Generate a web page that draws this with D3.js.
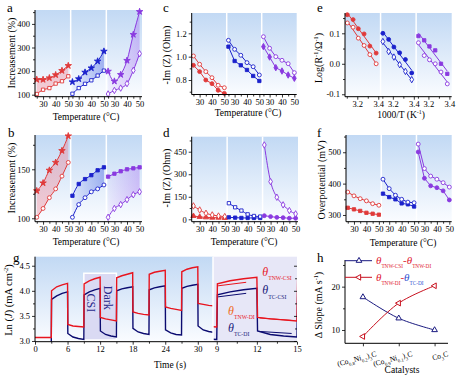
<!DOCTYPE html>
<html><head><meta charset="utf-8">
<script src="https://cdn.jsdelivr.net/npm/d3@7/dist/d3.min.js"></script>
<style>
html,body{margin:0;padding:0;background:#fff;}
svg{display:block;}
text{font-family:"Liberation Serif","Times New Roman",Times,serif;}
</style></head><body>
<svg id="chart" width="458" height="381"></svg>
<script>
// ---------------- data ----------------
const temps=[25,30,35,40,45,50];
const invT=[3.105,3.16,3.21,3.265,3.32,3.38];
const tempTicks=[30,40,50];
const tempMinor=[25,35,45];
const invTTicks=[3.2,3.4];
const invTMinor=[3.1,3.3];

const aRedSolid=[164,164,171,184,202,223];
const aRedOpen=[103,121,128,147,157,178];
const aBlueSolid=[154,167,195,213,242,284];
const aBlueOpen=[104,128,146,161,181,202];
const aPurpleSolid=[199,157,185,245,355,452];
const aPurpleOpen=[103,118,128,147,203,274];

const bRedSolid=[128,136,149,157,169,184];
const bRedOpen=[101,110,121,130,143,157];
const bBlueSolid=[123,135,140,144,149,152];
const bBlueOpen=[101,114,121,127,130,134];
const bPurpleSolid=[142.5,145.5,148,150,151,152];
const bPurpleOpen=[101,110,114,119,124,127];

const cRedOpen=[1.006,0.935,0.872,0.82,0.755,0.734];
const cRedSolid=[0.926,0.872,0.80,0.769,0.712,0.686];
const cBlueOpen=[1.14,1.063,1.012,0.949,0.914,0.843];
const cBlueSolid=[1.086,0.963,0.926,0.886,0.835,0.792];
const cPurpleOpen=[1.171,1.072,1.0,0.969,0.94,0.863];
const cPurpleSolid=[1.086,0.997,0.906,0.877,0.843,0.815];

const dRedOpen=[89,62,40,29,22,18];
const dRedSolid=[22,16,13,11,11,9];
const dBlueOpen=[107,80,58,33,22,18];
const dBlueSolid=[13,11,9,9,9,9];
const dPurpleOpen=[495,251,147,96,58,36];
const dPurpleSolid=[24,18,13,11,7,7];

const eRedSolid=[0.161,0.145,0.115,0.098,0.058,0.035];
const eRedOpen=[0.134,0.12,0.084,0.06,0.03,0.0];
const eBlueSolid=[0.10,0.08,0.055,0.036,0.014,-0.03];
const eBlueOpen=[0.073,0.04,0.022,-0.003,-0.025,-0.052];
const ePurpleSolid=[0.091,0.077,0.057,0.044,0.0,-0.033];
const ePurpleOpen=[0.069,0.027,0.013,0.0,-0.027,-0.066];

const fRedOpen=[373,361,352,345,336,331];
const fRedSolid=[323,318,313,307,304,301];
const fBlueOpen=[414,384,363,350,341,339];
const fBlueSolid=[368,357,350,337,334,327];
const fPurpleOpen=[526,448,424,414,403,389];
const fPurpleSolid=[501,417,393,387,377,348];

// g: photocurrent transients [time (s), Ln(J)]
const gTNW=[[0,3.07],[3,3.07],[3.05,4.0],[4,4.08],[5,4.12],[6,4.15],[6.05,3.33],[7,3.3],[8,3.29],[9,3.28],
 [9.05,4.14],[10,4.2],[11,4.24],[12,4.27],[12.05,3.47],[13,3.44],[14,3.42],[15,3.40],
 [15.05,4.26],[16,4.3],[17,4.33],[18,4.36],[18.05,3.58],[19,3.55],[20,3.53],[21,3.52],
 [21.05,4.33],[22,4.37],[23,4.39],[24,4.41],[24.05,3.68],[25,3.65],[26,3.63],[27,3.61],
 [27.05,4.38],[28,4.43],[29,4.46],[30,4.48],[30.05,3.75],[31,3.73],[32,3.71],[33,3.70]];
const gTC=[[0,2.95],[3,2.95],[3.05,3.83],[4,3.9],[5,3.95],[6,3.98],[6.05,3.15],[7,3.08],[8,3.05],[9,3.03],
 [9.05,3.92],[10,3.98],[11,4.02],[12,4.05],[12.05,3.2],[13,3.13],[14,3.1],[15,3.08],
 [15.05,4.0],[16,4.04],[17,4.06],[18,4.08],[18.05,3.25],[19,3.18],[20,3.15],[21,3.13],
 [21.05,4.02],[22,4.06],[23,4.08],[24,4.1],[24.05,3.22],[25,3.16],[26,3.13],[27,3.12],
 [27.05,4.05],[28,4.09],[29,4.11],[30,4.13],[30.05,3.3],[31,3.22],[32,3.19],[33,3.17]];
const gFitTNWCSI=[[9.1,4.10],[11.2,4.17]];
const gFitTCCSI=[[9.1,3.88],[11.2,3.95]];
const gFitTNWDI=[[12.2,3.46],[14.6,3.41]];
const gFitTCDI=[[12.2,3.19],[14.6,3.15]];
const csiBox={t:[9,15],v:[3.02,4.35]};
const gTicksL=[0,6,12,18,24,30], gMinorL=[3,9,15,21,27];
const gTicksR=[9,12,15], gMinorR=[10.5,13.5];
const gYTicks=[3.0,3.5,4.0,4.5], gYMinor=[3.25,3.75,4.25];

// h
const hCats=["(Co_{0.8}Ni_{0.2})_{3}C","(Co_{0.9}Ni_{0.1})_{3}C","Co_{3}C"];
const hCSIminusDI=[17.6,12.7,10.0];
const hTNWminusTC=[8.5,16.2,20.2];

// ---------------- drawing ----------------
const FONT='"Liberation Serif","Times New Roman",Times,serif';
const svg=d3.select("#chart");
const defs=svg.append("defs");
const bgG=defs.append("linearGradient").attr("id","bg").attr("x1",0).attr("y1",0).attr("x2",0).attr("y2",1);
bgG.append("stop").attr("offset",0).attr("stop-color","#c2d9f4");
bgG.append("stop").attr("offset",1).attr("stop-color","#fafcff");
const COL={red:"#e03a3a",blue:"#1c22cc",purple:"#8a3ae0"};
const FILL={red:["#f06a7a",0.32,0.32],blue:["#2f4fe0",0.06,0.38],purple:["#9a55f0",0.06,0.32]};
Object.keys(FILL).forEach(k=>{const [c,o0,o1]=FILL[k];
  const lg=defs.append("linearGradient").attr("id","f_"+k).attr("x1",0).attr("x2",1).attr("y1",0).attr("y2",0);
  lg.append("stop").attr("offset",0).attr("stop-color",c).attr("stop-opacity",o0);
  lg.append("stop").attr("offset",1).attr("stop-color",c).attr("stop-opacity",o1);});
const SYM={star:d3.symbolStar,square:d3.symbolSquare,circle:d3.symbolCircle,diamond:d3.symbolDiamond,triangle:d3.symbolTriangle};
const SZ={star:13,square:11,circle:12,diamond:12,triangle:12};

function parseRich(str){const out=[];const re=/([_^])\{([^}]*)\}|([^_^]+)/g;let m;
  while((m=re.exec(str))){if(m[3]!==undefined)out.push({t:m[3]});else out.push({t:m[2],sub:m[1]==="_",sup:m[1]==="^"});}
  return out;}
function segText(parent,x,y,segs,size,opts={}){
  const t=parent.append("text").attr("x",x).attr("y",y).attr("font-size",size).attr("fill","#000");
  if(opts.anchor)t.attr("text-anchor",opts.anchor);
  if(opts.transform)t.attr("transform",opts.transform);
  let cur=0;
  segs.forEach(s=>{const target=s.sub?size*0.35:(s.sup?-size*0.4:0);
    const ts=t.append("tspan").text(s.t).attr("dy",target-cur);cur=target;
    if(s.sub||s.sup)ts.attr("font-size",size*(s.scale||0.62));
    if(s.fill)ts.attr("fill",s.fill);
    if(s.it)ts.attr("font-style","italic");});
  return t;}
function styleAxis(g,size){g.attr("font-family",FONT).attr("font-size",size||8);g.select(".domain").remove();
  g.selectAll("line").attr("stroke","#000").attr("stroke-width",0.8);g.selectAll("text").attr("fill","#000");}
function yAxis(scale,x,major,minor,fmt){
  styleAxis(svg.append("g").attr("transform",`translate(${x},0)`).call(d3.axisLeft(scale).tickValues(major).tickSize(3).tickPadding(2).tickFormat(fmt)),8.5);
  if(minor)styleAxis(svg.append("g").attr("transform",`translate(${x},0)`).call(d3.axisLeft(scale).tickValues(minor).tickSize(2).tickFormat("")));}
function xAxis(scale,y,major,minor,fmt){
  styleAxis(svg.append("g").attr("transform",`translate(0,${y})`).call(d3.axisBottom(scale).tickValues(major).tickSize(3).tickPadding(1).tickFormat(fmt)),8.5);
  if(minor)styleAxis(svg.append("g").attr("transform",`translate(0,${y})`).call(d3.axisBottom(scale).tickValues(minor).tickSize(2).tickFormat("")));}
function letter(l,x,y){svg.append("text").attr("x",x).attr("y",y).attr("font-size",13).text(l);}
function yTitle(str,x,y,size){segText(svg,0,0,parseRich(str),size||10,{anchor:"middle",transform:`translate(${x},${y}) rotate(-90)`});}
function xTitle(str,x,y,size){segText(svg,x,y,parseRich(str),size||9.5,{anchor:"middle"});}

const f1=d=>d.toFixed(1), fd=d=>String(d);
const panels=[
 {id:"a",x0:35,x1:142,y0:10,y1:96.7,yd:[91.5,459],xd:[23.6,51.9],xv:temps,xt:tempTicks,xm:tempMinor,xf:fd,
  yt:[100,200,300,400],ym:[150,250,350,450],yf:fd,fill:true,curve:d3.curveMonotoneX,
  series:[[aRedSolid,aRedOpen,"red","star","square"],[aBlueSolid,aBlueOpen,"blue","star","square"],[aPurpleSolid,aPurpleOpen,"purple","star","diamond"]],
  L:[7,12],XT:["Temperature (°C)",86,120],YT:["Increasement (%)",15,53]},
 {id:"b",x0:35,x1:142,y0:135,y1:221.7,yd:[96.5,185],xd:[23.6,51.9],xv:temps,xt:tempTicks,xm:tempMinor,xf:fd,
  yt:[100,150],ym:[125,175],yf:fd,fill:true,curve:d3.curveMonotoneX,
  series:[[bRedSolid,bRedOpen,"red","star","circle"],[bBlueSolid,bBlueOpen,"blue","square","circle"],[bPurpleSolid,bPurpleOpen,"purple","square","diamond"]],
  L:[8,137],XT:["Temperature (°C)",86,245],YT:["Increasement (%)",15,178]},
 {id:"c",x0:191.7,x1:296.7,y0:13,y1:94.5,yd:[0.676,1.374],xd:[23.6,51.9],xv:temps,xt:tempTicks,xm:tempMinor,xf:fd,
  yt:[0.8,1.0,1.2],ym:[0.7,0.9,1.1,1.3],yf:f1,fill:false,curve:d3.curveLinear,
  series:[[cRedSolid,cRedOpen,"red","circle","circle"],[cBlueSolid,cBlueOpen,"blue","square","circle"],[cPurpleSolid,cPurpleOpen,"purple","diamond","circle"]],
  L:[163,12],XT:["Temperature (°C)",248,116],YT:["-Im (Z) (Ohm)",170,55]},
 {id:"d",x0:191.7,x1:298,y0:136.7,y1:221.7,yd:[-16,550],xd:[23.6,51.9],xv:temps,xt:tempTicks,xm:tempMinor,xf:fd,
  yt:[0,150,300,450],ym:[75,225,375,525],yf:fd,fill:false,curve:d3.curveMonotoneX,
  series:[[dRedSolid,dRedOpen,"red","triangle","diamond"],[dBlueSolid,dBlueOpen,"blue","square","square"],[dPurpleSolid,dPurpleOpen,"purple","circle","diamond"]],
  L:[163,137],XT:["Temperature (°C)",244,245],YT:["-Im (Z) (Ohm)",170,178]},
 {id:"e",x0:345,x1:451.7,y0:13,y1:96.7,yd:[-0.108,0.1666],xd:[3.083,3.422],xv:invT,xt:invTTicks,xm:invTMinor,xf:f1,
  yt:[-0.1,0,0.1],ym:[-0.05,0.05,0.15],yf:f1,fill:false,fit:true,curve:d3.curveLinear,
  series:[[eRedSolid,eRedOpen,"red","circle","circle"],[eBlueSolid,eBlueOpen,"blue","circle","diamond"],[ePurpleSolid,ePurpleOpen,"purple","square","circle"]],
  L:[317,12],XT:["1000/T (K^{-1})",401,118],YT:["Log(R^{-1}/Ω^{-1})",322,58]},
 {id:"f",x0:346,x1:451.7,y0:135,y1:221.7,yd:[278.6,555],xd:[23.6,51.9],xv:temps,xt:tempTicks,xm:tempMinor,xf:fd,
  yt:[300,400,500],ym:[350,450,550],yf:fd,fill:false,curve:d3.curveLinear,
  series:[[fRedSolid,fRedOpen,"red","square","circle"],[fBlueSolid,fBlueOpen,"blue","square","circle"],[fPurpleSolid,fPurpleOpen,"purple","circle","circle"]],
  L:[317,137],XT:["Temperature (°C)",403,246],YT:["Overpotential (mV)",325,180]}
];

function drawPanel(p){
  const W=(p.x1-p.x0)/3;
  const y=d3.scaleLinear().domain(p.yd).range([p.y1,p.y0]);
  svg.append("rect").attr("x",p.x0).attr("y",p.y0).attr("width",p.x1-p.x0).attr("height",p.y1-p.y0).attr("fill","url(#bg)");
  const xs=[0,1,2].map(i=>d3.scaleLinear().domain(p.xd).range([p.x0+i*W,p.x0+(i+1)*W]));
  [1,2].forEach(i=>svg.append("line").attr("x1",p.x0+i*W).attr("x2",p.x0+i*W).attr("y1",p.y0).attr("y2",p.y1).attr("stroke","#fff").attr("stroke-width",1.5));
  const markers=[];
  p.series.forEach((s,i)=>{
    const [solid,open,ck,symS,symO]=s;const x=xs[i];const col=COL[ck];
    if(p.fill){const pts=p.xv.map((xv,j)=>({x:xv,a:solid[j],b:open[j]}));
      svg.append("path").datum(pts).attr("d",d3.area().x(d=>x(d.x)).y0(d=>y(d.b)).y1(d=>y(d.a)).curve(p.curve)).attr("fill",`url(#f_${ck})`);}
    [[solid,symS,true],[open,symO,false]].forEach(([vals,sym,filled])=>{
      const pts=p.xv.map((xv,j)=>[xv,vals[j]]);
      let linePts=pts;
      if(p.fit){const mx=d3.mean(pts,d=>d[0]),my=d3.mean(pts,d=>d[1]);
        const sl=d3.sum(pts,d=>(d[0]-mx)*(d[1]-my))/d3.sum(pts,d=>(d[0]-mx)**2);
        linePts=[pts[0][0],pts[pts.length-1][0]].map(v=>[v,my+sl*(v-mx)]);}
      svg.append("path").attr("d",d3.line().x(d=>x(d[0])).y(d=>y(d[1])).curve(p.curve)(linePts))
        .attr("fill","none").attr("stroke",col).attr("stroke-width",1);
      markers.push({pts,x,sym,filled,col});});
  });
  markers.forEach(m=>{svg.append("g").selectAll("path").data(m.pts).join("path")
    .attr("transform",d=>`translate(${m.x(d[0])},${y(d[1])})`)
    .attr("d",d3.symbol().type(SYM[m.sym]).size(SZ[m.sym]))
    .attr("fill",m.filled?m.col:"#fff").attr("stroke",m.col).attr("stroke-width",0.9);});
  yAxis(y,p.x0,p.yt,p.ym,p.yf);
  xs.forEach(x=>xAxis(x,p.y1,p.xt,p.xm,p.xf));
  svg.append("path").attr("d",`M${p.x0},${p.y0}V${p.y1}H${p.x1}`).attr("fill","none").attr("stroke","#000").attr("stroke-width",1);
  letter(p.id,p.L[0],p.L[1]);
  xTitle(p.XT[0],p.XT[1],p.XT[2]);
  yTitle(p.YT[0],p.YT[1],p.YT[2]);
}
panels.forEach(drawPanel);

// ---------- panel g ----------
const G={x0:35,xm:213,x1:297,y0:256.7,y1:341.7};
const gy=d3.scaleLinear().domain([2.986,4.68]).range([G.y1,G.y0]);
const gxL=d3.scaleLinear().domain([0,32.8]).range([G.x0,G.xm]);
const gxR=d3.scaleLinear().domain([8.72,15]).range([G.xm,G.x1]);
svg.append("rect").attr("x",G.x0).attr("y",G.y0).attr("width",G.xm-G.x0).attr("height",G.y1-G.y0).attr("fill","url(#bg)");
svg.append("rect").attr("x",G.xm).attr("y",G.y0).attr("width",G.x1-G.xm).attr("height",G.y1-G.y0).attr("fill","#e7e7f7");
defs.append("clipPath").attr("id","clipL").append("rect").attr("x",G.x0).attr("y",G.y0).attr("width",G.xm-G.x0).attr("height",G.y1-G.y0);
defs.append("clipPath").attr("id","clipR").append("rect").attr("x",G.xm).attr("y",G.y0).attr("width",G.x1-G.xm).attr("height",G.y1-G.y0);
const RED_G="#e8141e",NAVY_G="#0b0b70";
const gL=svg.append("g").attr("clip-path","url(#clipL)");
gL.append("rect").attr("x",gxL(csiBox.t[0])).attr("y",gy(csiBox.v[1])).attr("width",gxL(csiBox.t[1])-gxL(csiBox.t[0]))
  .attr("height",gy(csiBox.v[0])-gy(csiBox.v[1])).attr("fill","#dadaf3").attr("stroke","#fff").attr("stroke-width",1.5);
const lnL=d3.line().x(d=>gxL(d[0])).y(d=>gy(d[1]));
gL.append("path").attr("d",lnL(gTC)).attr("fill","none").attr("stroke",NAVY_G).attr("stroke-width",1.4);
gL.append("path").attr("d",lnL(gTNW)).attr("fill","none").attr("stroke",RED_G).attr("stroke-width",1.4);
[["CSI",10.4,3.76],["Dark",13.5,3.86]].forEach(([s,t,v])=>svg.append("text").attr("transform",`translate(${gxL(t)},${gy(v)}) rotate(90)`)
  .attr("text-anchor","middle").attr("dominant-baseline","central").attr("font-size",12).attr("fill","#2a2a8c").text(s));
const gR=svg.append("g").attr("clip-path","url(#clipR)");
const lnR=d3.line().x(d=>gxR(d[0])).y(d=>gy(d[1]));
gR.append("path").attr("d",lnR(gTC)).attr("fill","none").attr("stroke",NAVY_G).attr("stroke-width",1.4);
gR.append("path").attr("d",lnR(gTNW)).attr("fill","none").attr("stroke",RED_G).attr("stroke-width",1.4);
[[gFitTNWCSI,RED_G],[gFitTCCSI,NAVY_G],[gFitTNWDI,RED_G],[gFitTCDI,NAVY_G]].forEach(([f,c])=>
  gR.append("path").attr("d",lnR(f)).attr("fill","none").attr("stroke",c).attr("stroke-width",1));
svg.append("line").attr("x1",G.xm).attr("x2",G.xm).attr("y1",G.y0).attr("y2",G.y1).attr("stroke","#fff").attr("stroke-width",1.5);
yAxis(gy,G.x0,gYTicks,gYMinor,f1);
styleAxis(svg.append("g").attr("transform",`translate(${G.x1},0)`).call(d3.axisLeft(gy).tickValues(gYTicks).tickSize(3).tickFormat("")));
styleAxis(svg.append("g").attr("transform",`translate(${G.x1},0)`).call(d3.axisLeft(gy).tickValues(gYMinor).tickSize(2).tickFormat("")));
xAxis(gxL,G.y1,gTicksL,gMinorL,fd);
xAxis(gxR,G.y1,gTicksR,gMinorR,fd);
svg.append("path").attr("d",`M${G.x0},${G.y0}V${G.y1}H${G.x1}`).attr("fill","none").attr("stroke","#000").attr("stroke-width",1);
letter("g",13,262);
xTitle("Time (s)",170,368);
segText(svg,0,0,[{t:"Ln ("},{t:"J",it:true},{t:") (mA cm"},{t:"-2",sup:true},{t:")"}],10.5,{anchor:"middle",transform:`translate(12,300) rotate(-90)`});
function thetaLabel(x,y,thetaCol,sub,subCol){segText(svg,x,y,[{t:"θ",it:true,fill:thetaCol},{t:sub,sub:true,scale:0.48,fill:subCol}],12);}
thetaLabel(gxR(12.4),gy(4.29),"#e8202a","TNW-CSI","#e8202a");
thetaLabel(gxR(12.4),gy(3.93),"#1a1a7a","TC-CSI","#1a1a7a");
thetaLabel(gxR(9.85),gy(3.52),"#f06a20","TNW-DI","#e8202a");
thetaLabel(gxR(9.85),gy(3.18),"#1a1a7a","TC-DI","#1a1a7a");

// ---------- panel h ----------
const H={x0:345,x1:448,y0:260,y1:343.3};
const hy=d3.scaleLinear().domain([6.93,26.15]).range([H.y1,H.y0]);
const hx=d3.scalePoint().domain(hCats).range([H.x0,452.5]).padding(0.5);
const NAVY_H="#1a1a80",RED_H="#c8101e";
const hLine=d3.line().x((d,i)=>hx(hCats[i])).y(d=>hy(d)).curve(d3.curveCatmullRom);
svg.append("path").attr("d",hLine(hCSIminusDI)).attr("fill","none").attr("stroke",NAVY_H).attr("stroke-width",1);
svg.append("path").attr("d",hLine(hTNWminusTC)).attr("fill","none").attr("stroke",RED_H).attr("stroke-width",1);
svg.append("g").selectAll("path").data(hCSIminusDI).join("path").attr("transform",(d,i)=>`translate(${hx(hCats[i])},${hy(d)})`)
  .attr("d",d3.symbol().type(d3.symbolTriangle).size(14)).attr("fill","#fff").attr("stroke",NAVY_H).attr("stroke-width",1);
svg.append("g").selectAll("path").data(hTNWminusTC).join("path").attr("transform",(d,i)=>`translate(${hx(hCats[i])},${hy(d)}) rotate(-90)`)
  .attr("d",d3.symbol().type(d3.symbolTriangle).size(14)).attr("fill","#fff").attr("stroke",RED_H).attr("stroke-width",1);
yAxis(hy,H.x0,[10,20],[15,25],fd);
styleAxis(svg.append("g").attr("transform",`translate(0,${H.y1})`).call(d3.axisBottom(hx).tickSize(3).tickFormat("")));
svg.append("path").attr("d",`M${H.x0},${H.y0}V${H.y1}H${H.x1}`).attr("fill","none").attr("stroke","#000").attr("stroke-width",1);
hCats.forEach(c=>{const x=hx(c)+14,y=356;
  segText(svg,x,y,parseRich(c),7.5,{anchor:"end",transform:`rotate(-15,${x},${y})`});});
xTitle("Catalysts",402,373);
yTitle("Δ Slope (mA s^{-1})",322,305);
letter("h",317,262);
[[260.7,NAVY_H,0],[277.3,RED_H,-90]].forEach(([ly,c,rot])=>{
  svg.append("line").attr("x1",H.x0).attr("x2",372).attr("y1",ly).attr("y2",ly).attr("stroke",c).attr("stroke-width",1);
  svg.append("path").attr("transform",`translate(359,${ly}) rotate(${rot})`).attr("d",d3.symbol().type(d3.symbolTriangle).size(14)).attr("fill","#fff").attr("stroke",c);});
segText(svg,376,264,[{t:"θ",it:true,fill:"#e02030"},{t:"TNW-CSI",sub:true,scale:0.48,fill:"#e02030"},{t:"-",fill:"#e02030"},{t:"θ",it:true,fill:"#e02030"},{t:"TNW-DI",sub:true,scale:0.48,fill:"#e02030"}],11);
segText(svg,376,281,[{t:"θ",it:true,fill:"#e02030"},{t:"TNW-DI",sub:true,scale:0.48,fill:"#e02030"},{t:"-",fill:"#e02030"},{t:"θ",it:true,fill:"#3050d0"},{t:"TC-DI",sub:true,scale:0.48,fill:"#3050d0"}],11);
</script>
</body></html>
